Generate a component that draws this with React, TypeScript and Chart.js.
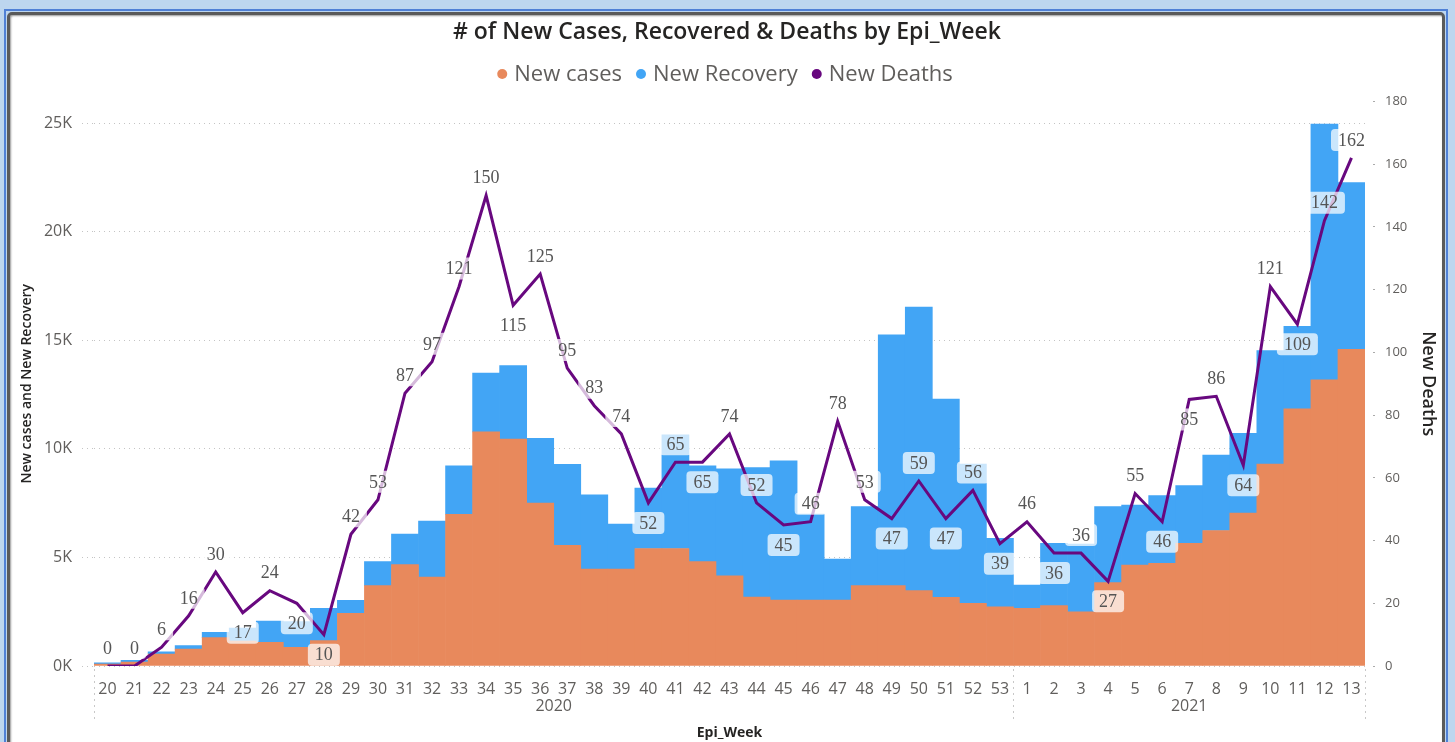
import React, { useEffect, useRef } from 'react';
import { Chart, registerables } from 'chart.js';

Chart.register(...registerables);

const chartTitle = '# of New Cases, Recovered & Deaths by Epi_Week';
const xAxisTitle = 'Epi_Week';
const leftAxisTitle = 'New cases and New Recovery';
const rightAxisTitle = 'New Deaths';

const weekLabels = [
  '20', '21', '22', '23', '24', '25', '26', '27', '28', '29', '30', '31', '32', '33', '34', '35', '36',
  '37', '38', '39', '40', '41', '42', '43', '44', '45', '46', '47', '48', '49', '50', '51', '52', '53',
  '1', '2', '3', '4', '5', '6', '7', '8', '9', '10', '11', '12', '13',
];

const yearLabels = [
  '2020', '2020', '2020', '2020', '2020', '2020', '2020', '2020', '2020', '2020', '2020', '2020',
  '2020', '2020', '2020', '2020', '2020', '2020', '2020', '2020', '2020', '2020', '2020', '2020',
  '2020', '2020', '2020', '2020', '2020', '2020', '2020', '2020', '2020', '2020',
  '2021', '2021', '2021', '2021', '2021', '2021', '2021', '2021', '2021', '2021', '2021', '2021', '2021',
];

const newCases = [
  90, 180, 550, 780, 1310, 1150, 1090, 860, 1170, 2430, 3700, 4670, 4090, 6990, 10780, 10450, 7500,
  5560, 4460, 4460, 5410, 5410, 4810, 4150, 3180, 3040, 3040, 3040, 3700, 3700, 3470, 3160, 2890, 2730,
  2660, 2780, 2500, 3840, 4650, 4730, 5650, 6240, 7040, 9300, 11850, 13180, 14590,
];

const newRecovery = [
  60, 80, 100, 160, 240, 600, 980, 1190, 1490, 600, 1110, 1410, 2590, 2230, 2710, 3390, 2990,
  3730, 3420, 2080, 2780, 5240, 4410, 4930, 5960, 6410, 3960, 1880, 3640, 11550, 13060, 9130, 6410, 3150,
  1070, 2870, 3120, 3500, 2760, 3120, 2660, 3480, 3680, 5230, 3790, 11780, 7680,
];

const newDeaths = [
  0, 0, 6, 16, 30, 17, 24, 20, 10, 42, 53, 87, 97, 121, 150, 115, 125,
  95, 83, 74, 52, 65, 65, 74, 52, 45, 46, 78, 53, 47, 59, 47, 56, 39,
  46, 36, 36, 27, 55, 46, 85, 86, 64, 121, 109, 142, 162,
];

// 't' = label above the point, 'b' = label below the point
const deathLabelSide = [
  't', 't', 't', 't', 't', 'b', 't', 'b', 'b', 't', 't', 't', 't', 't', 't', 'b', 't',
  't', 't', 't', 'b', 't', 'b', 't', 't', 'b', 't', 't', 't', 'b', 't', 'b', 't', 'b',
  't', 'b', 't', 'b', 't', 'b', 'b', 't', 'b', 't', 'b', 't', 't',
];

const leftTicks = [0, 5000, 10000, 15000, 20000, 25000];
const rightTicks = [0, 20, 40, 60, 80, 100, 120, 140, 160, 180];

const COLOR_CASES = '#E8895C';
const COLOR_RECOVERY = '#42A5F5';
const COLOR_DEATHS = '#68087F';

const overlayPlugin = {
  id: 'overlay',
  afterDatasetsDraw(chart: any) {
    const ctx = chart.ctx;
    const meta = chart.getDatasetMeta(2);
    ctx.save();
    ctx.font = '18px "Liberation Serif"';
    ctx.textAlign = 'center';
    ctx.textBaseline = 'middle';
    meta.data.forEach((pt: any, i: number) => {
      const txt = String(newDeaths[i]);
      const w = ctx.measureText(txt).width;
      const cy = deathLabelSide[i] === 't' ? pt.y - 18 : pt.y + 20;
      const bw = w + 14;
      const bh = 22;
      ctx.fillStyle = 'rgba(255,255,255,0.72)';
      ctx.beginPath();
      (ctx as any).roundRect(pt.x - bw / 2, cy - bh / 2, bw, bh, 4);
      ctx.fill();
      ctx.fillStyle = '#555555';
      ctx.fillText(txt, pt.x, cy + 1);
    });
    ctx.restore();
  },
  afterDraw(chart: any) {
    const ctx = chart.ctx;
    const xs = chart.scales.x;
    ctx.save();
    // title
    ctx.font = '600 23px "Open Sans"';
    ctx.fillStyle = '#252423';
    ctx.textAlign = 'center';
    ctx.textBaseline = 'middle';
    ctx.fillText(chartTitle, 727, 32);

    // legend
    const items = chart.data.datasets.map((d: any) => ({ text: d.label, color: d.legendColor }));
    ctx.font = '22px "Open Sans"';
    const r = 5;
    const dotGap = 7;
    const itemGap = 14;
    const widths = items.map((it: any) => r * 2 + dotGap + ctx.measureText(it.text).width);
    const total = widths.reduce((a: number, b: number) => a + b, 0) + itemGap * (items.length - 1);
    let x = 725 - total / 2;
    const ly = 74;
    items.forEach((it: any, i: number) => {
      ctx.fillStyle = it.color;
      ctx.beginPath();
      ctx.arc(x + r, ly, r, 0, Math.PI * 2);
      ctx.fill();
      ctx.fillStyle = '#605E5C';
      ctx.textAlign = 'left';
      ctx.fillText(it.text, x + r * 2 + dotGap, ly + 1);
      x += widths[i] + itemGap;
    });

    // year group labels and separators
    const half = (xs.getPixelForValue(1) - xs.getPixelForValue(0)) / 2;
    const groups: { year: string; start: number; end: number }[] = [];
    yearLabels.forEach((y, i) => {
      const g = groups[groups.length - 1];
      if (g && g.year === y) g.end = i;
      else groups.push({ year: y, start: i, end: i });
    });
    ctx.font = '16px "Open Sans"';
    ctx.fillStyle = '#605E5C';
    ctx.textAlign = 'center';
    ctx.strokeStyle = '#c8c8c8';
    ctx.lineWidth = 1;
    ctx.setLineDash([2, 4]);
    const bottom = chart.chartArea.bottom;
    const drawSep = (px: number) => {
      ctx.beginPath();
      ctx.moveTo(Math.round(px) + 0.5, bottom + 3);
      ctx.lineTo(Math.round(px) + 0.5, bottom + 56);
      ctx.stroke();
    };
    groups.forEach((g, gi) => {
      const left = xs.getPixelForValue(g.start) - half;
      const right = xs.getPixelForValue(g.end) + half;
      ctx.fillText(g.year, (left + right) / 2, 706);
      if (gi === 0) drawSep(left);
      drawSep(right);
    });
    ctx.restore();
  },
};

export default function App() {
  const ref = useRef<HTMLCanvasElement | null>(null);

  useEffect(() => {
    document.body.style.margin = '0';
    document.body.style.overflow = 'hidden';
    const canvas = ref.current;
    if (!canvas) return;
    const chart = new Chart(canvas, {
      type: 'bar',
      data: {
        labels: weekLabels,
        datasets: [
          {
            type: 'bar',
            label: 'New cases',
            data: newCases,
            backgroundColor: COLOR_CASES,
            legendColor: COLOR_CASES,
            yAxisID: 'y',
            stack: 's',
            order: 2,
            barPercentage: 1,
            categoryPercentage: 1,
            borderWidth: 0,
          } as any,
          {
            type: 'bar',
            label: 'New Recovery',
            data: newRecovery,
            backgroundColor: COLOR_RECOVERY,
            legendColor: COLOR_RECOVERY,
            yAxisID: 'y',
            stack: 's',
            order: 2,
            barPercentage: 1,
            categoryPercentage: 1,
            borderWidth: 0,
          } as any,
          {
            type: 'line',
            label: 'New Deaths',
            data: newDeaths,
            borderColor: COLOR_DEATHS,
            backgroundColor: COLOR_DEATHS,
            legendColor: COLOR_DEATHS,
            yAxisID: 'y1',
            order: 0,
            borderWidth: 3,
            pointRadius: 0,
            tension: 0,
            fill: false,
          } as any,
        ],
      },
      options: {
        responsive: false,
        animation: false,
        devicePixelRatio: 1,
        layout: { padding: { left: 0, right: 0, top: 101.5, bottom: 0 } },
        plugins: {
          legend: { display: false },
          title: { display: false },
          tooltip: { enabled: false },
        },
        scales: {
          x: {
            type: 'category',
            stacked: true,
            offset: true,
            grid: { display: false },
            border: { display: false },
            ticks: {
              autoSkip: false,
              maxRotation: 0,
              padding: 6,
              color: '#605E5C',
              font: { family: 'Open Sans', size: 16 },
            },
            title: {
              display: true,
              text: xAxisTitle,
              color: '#252423',
              font: { family: 'Open Sans', size: 14, weight: 'bold' },
              padding: { top: 0, bottom: 1 },
            },
            afterFit: (s: any) => {
              s.height = 76;
            },
          },
          y: {
            type: 'linear',
            position: 'left',
            stacked: true,
            min: 0,
            max: 26000,
            afterBuildTicks: (s: any) => {
              s.ticks = leftTicks.map((v) => ({ value: v }));
            },
            grid: {
              color: '#c4c4c4',
              lineWidth: 1,
              drawTicks: true,
              tickLength: 12,
              tickColor: '#c4c4c4',
              tickBorderDash: [1, 4],
            } as any,
            border: { display: false, dash: [1, 4] },
            ticks: {
              padding: 10,
              color: '#605E5C',
              font: { family: 'Open Sans', size: 16 },
              callback: (v: any) => `${Number(v) / 1000}K`,
            },
            title: {
              display: true,
              text: leftAxisTitle,
              color: '#252423',
              font: { family: 'Open Sans', size: 14, weight: '600' as any },
              padding: { top: 19, bottom: 0 },
            },
            afterFit: (s: any) => {
              s.width = 94;
            },
          },
          y1: {
            type: 'linear',
            position: 'right',
            min: 0,
            max: 180,
            afterBuildTicks: (s: any) => {
              s.ticks = rightTicks.map((v) => ({ value: v }));
            },
            grid: {
              drawOnChartArea: false,
              drawTicks: true,
              tickLength: 10,
              tickColor: '#aaaaaa',
              tickWidth: 1,
              tickBorderDash: [2, 20],
              tickBorderDashOffset: 14,
            } as any,
            border: { display: false },
            ticks: {
              padding: 10,
              color: '#605E5C',
              font: { family: 'Open Sans', size: 13 },
            },
            title: {
              display: true,
              text: rightAxisTitle,
              color: '#252423',
              font: { family: 'Open Sans', size: 18, weight: '600' as any },
              padding: { top: 16, bottom: 0 },
            },
            afterFit: (s: any) => {
              s.width = 90;
            },
          },
        },
      } as any,
      plugins: [overlayPlugin],
    });
    return () => chart.destroy();
  }, []);

  return (
    <div style={{ position: 'absolute', left: 0, top: 0, width: 1455, height: 742, overflow: 'hidden', background: '#BDD6EF' }}>
      <div
        style={{
          position: 'absolute',
          left: 4,
          top: 9,
          width: 1444,
          height: 780,
          boxSizing: 'border-box',
          border: '2px solid #4F80D6',
        }}
      />
      <div
        style={{
          position: 'absolute',
          left: 7,
          top: 12,
          width: 1438,
          height: 780,
          boxSizing: 'border-box',
          border: '3px solid #5A5A5A',
          borderRadius: 5,
          background: '#FFFFFF',
          boxShadow: 'inset 1px 1px 2px #999',
        }}
      />
      <canvas ref={ref} width={1455} height={742} style={{ position: 'absolute', left: 0, top: 0, width: 1455, height: 742 }} />
    </div>
  );
}
